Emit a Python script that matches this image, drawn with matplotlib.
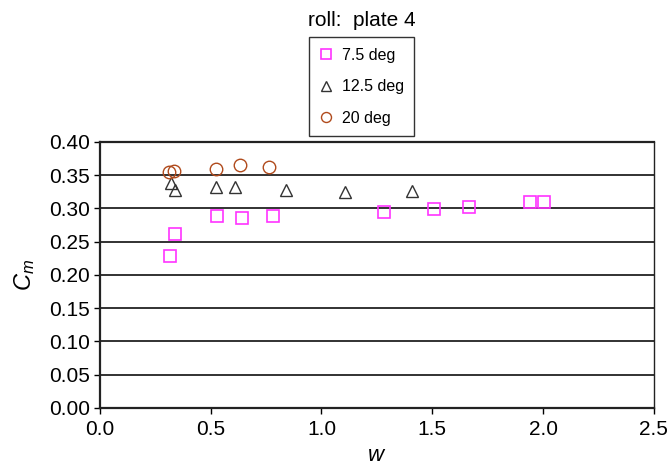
import matplotlib.pyplot as plt
import numpy as np

plt.rcParams['font.family'] = ['Liberation Sans', 'DejaVu Sans']
plt.rcParams['mathtext.fontset'] = 'custom'
plt.rcParams['mathtext.rm'] = 'Liberation Sans'
plt.rcParams['mathtext.it'] = 'Liberation Sans:italic'

# 7.5 deg
w_75 = [0.316, 0.338, 0.527, 0.640, 0.781, 1.283, 1.508, 1.665, 1.939, 2.006]
cm_75 = [0.228, 0.262, 0.289, 0.285, 0.288, 0.295, 0.299, 0.302, 0.309, 0.309]

# 12.5 deg
w_125 = [0.320, 0.340, 0.525, 0.610, 0.839, 1.105, 1.408]
cm_125 = [0.338, 0.327, 0.332, 0.332, 0.327, 0.324, 0.326]

# 20 deg
w_20 = [0.312, 0.336, 0.523, 0.631, 0.762]
cm_20 = [0.355, 0.356, 0.360, 0.365, 0.362]

labels = ["7.5 deg", "12.5 deg", "20 deg"]
xticks = [0.0, 0.5, 1.0, 1.5, 2.0, 2.5]
yticks = [0.00, 0.05, 0.10, 0.15, 0.20, 0.25, 0.30, 0.35, 0.40]

fig = plt.figure(figsize=(6.7, 4.7), dpi=100)
ax = fig.add_axes([0.149, 0.132, 0.827, 0.566])

for yv in yticks:
    ax.axhline(yv, color='#222222', lw=1.3, zorder=1)

ax.plot(w_75, cm_75, 's', ms=8.5, mfc='none', mec='#FF33FF', mew=1.2, label=labels[0], zorder=3)
ax.plot(w_125, cm_125, '^', ms=9, mfc='none', mec='#333333', mew=1.0, label=labels[1], zorder=3)
ax.plot(w_20, cm_20, 'o', ms=9, mfc='none', mec='#B04A1C', mew=1.0, label=labels[2], zorder=3)

ax.set_xlim(0, 2.5)
ax.set_ylim(0, 0.40)
ax.set_xticks(xticks)
ax.set_xticklabels(["%.1f" % v for v in xticks])
ax.set_yticks(yticks)
ax.set_yticklabels(["%.2f" % v for v in yticks])
ax.tick_params(labelsize=15, direction='out', length=4, width=1, colors='black', pad=3)
ax.tick_params(axis='x', pad=5)
for s in ax.spines.values():
    s.set_color('#222222')
    s.set_linewidth(1.0)
ax.spines['left'].set_linewidth(1.6)
ax.spines['bottom'].set_linewidth(1.6)
ax.spines['top'].set_linewidth(1.6)

ax.set_xlabel("$w$", fontsize=16, labelpad=4)
ax.set_ylabel("$C_m$", fontsize=17, labelpad=9)

fig.text(0.540, 0.957, "roll:  plate 4", ha='center', va='center', fontsize=15)

leg = fig.legend(loc='upper center', bbox_to_anchor=(0.540, 0.921), fontsize=11.5,
                 frameon=True, fancybox=False, shadow=False, labelspacing=1.05,
                 handlelength=0.8, handletextpad=0.6, borderpad=0.65, numpoints=1,
                 markerscale=0.8, borderaxespad=0)
leg.get_frame().set_edgecolor('black')
leg.get_frame().set_linewidth(1.0)

fig.savefig("out.png", dpi=100)
